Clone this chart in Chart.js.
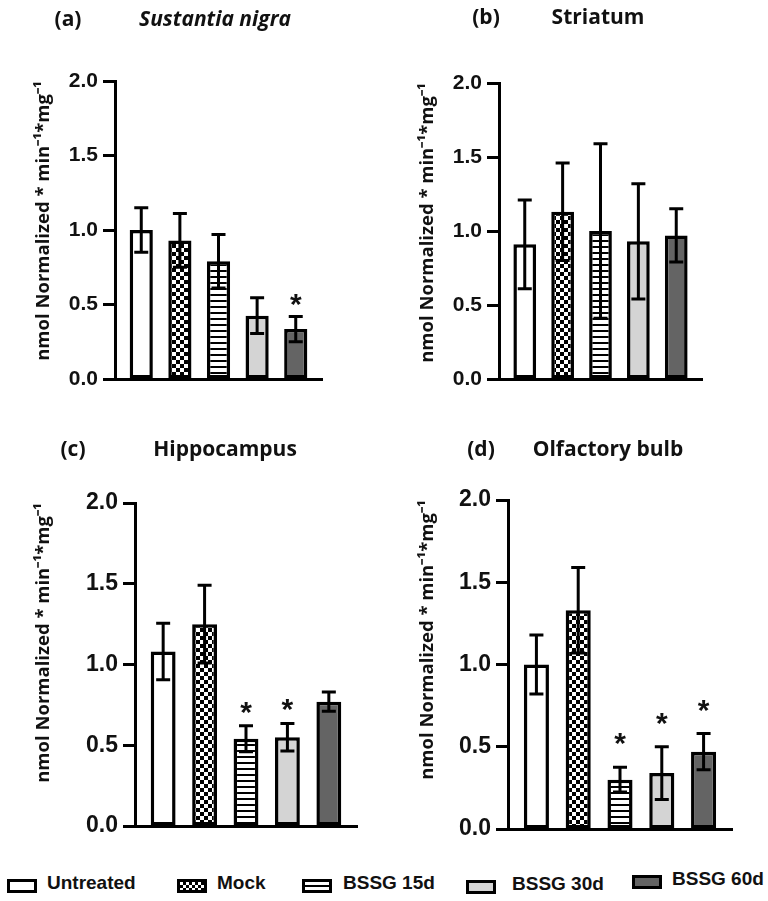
<!DOCTYPE html>
<html>
<head>
<meta charset="utf-8">
<script src="https://cdn.jsdelivr.net/npm/chart.js@4.4.1/dist/chart.umd.min.js"></script>
<style>
  body { margin: 0; background: #fff; }
  #page { position: relative; width: 768px; height: 901px; overflow: hidden; font-family: "Open Sans", sans-serif; color: #111; }
  .panel { position: absolute; }
  .head { position: absolute; font-weight: 700; font-size: 21px; white-space: nowrap; transform: translate(-50%, -50%); }
  .swatch { position: absolute; box-sizing: border-box; border: 3px solid #000; width: 30px; height: 14px; }
  .ltext { position: absolute; font-family: "Liberation Sans Narrow", "Liberation Sans", sans-serif; font-weight: 700; font-size: 19px; transform: translateY(-50%); white-space: nowrap; }
</style>
</head>
<body>
<div id="page"></div>
<script>
// groups shown in every panel
const groups = ['Untreated', 'Mock', 'BSSG 15d', 'BSSG 30d', 'BSSG 60d'];
const yTicks = [0, 0.5, 1.0, 1.5, 2.0];

// (a) Sustantia nigra
const nigraMean = [1.00, 0.93, 0.79, 0.425, 0.335];
const nigraErr  = [0.15, 0.18, 0.18, 0.12, 0.085];
const nigraStar = [false, false, false, false, true];

// (b) Striatum
const striatumMean = [0.91, 1.13, 1.00, 0.93, 0.97];
const striatumErr  = [0.30, 0.33, 0.59, 0.39, 0.18];
const striatumStar = [false, false, false, false, false];

// (c) Hippocampus
const hippoMean = [1.08, 1.25, 0.54, 0.55, 0.77];
const hippoErr  = [0.175, 0.24, 0.08, 0.085, 0.06];
const hippoStar = [false, false, true, true, false];

// (d) Olfactory bulb
const olfMean = [1.00, 1.33, 0.30, 0.34, 0.47];
const olfErr  = [0.18, 0.26, 0.075, 0.16, 0.11];
const olfStar = [false, false, true, true, true];

const yTitle = 'nmol Normalized * min\u207B\u00B9*mg\u207B\u00B9';

const panels = [
  { letter: '(a)', name: 'Sustantia nigra', italic: true, mean: nigraMean, err: nigraErr, star: nigraStar,
    left: 0, top: 0, w: 384, h: 417, cl: 115, ct: 81, cr: 322, cb: 387, tick: 21,
    letterX: 68, nameX: 215, headY: 18, starGap: 2 },
  { letter: '(b)', name: 'Striatum', italic: false, mean: striatumMean, err: striatumErr, star: striatumStar,
    left: 384, top: 0, w: 384, h: 417, cl: 115, ct: 83, cr: 318, cb: 387, tick: 21,
    letterX: 486, nameX: 598, headY: 16, starGap: 6 },
  { letter: '(c)', name: 'Hippocampus', italic: false, mean: hippoMean, err: hippoErr, star: hippoStar,
    left: 0, top: 420, w: 384, h: 440, cl: 135, ct: 83, cr: 357, cb: 414, tick: 23,
    letterX: 73, nameX: 225, headY: 448, starGap: 4 },
  { letter: '(d)', name: 'Olfactory bulb', italic: false, mean: olfMean, err: olfErr, star: olfStar,
    left: 384, top: 420, w: 384, h: 440, cl: 124, ct: 80, cr: 348, cb: 417, tick: 23,
    letterX: 481, nameX: 608, headY: 448, starGap: 14 }
];

const legendPos = [
  { bx: 7, by: 879, tx: 47 },
  { bx: 177, by: 879, tx: 217 },
  { bx: 302, by: 879, tx: 343 },
  { bx: 466, by: 880, tx: 512 },
  { bx: 632, by: 875, tx: 672 }
];

function makeFills(ctx) {
  const c1 = document.createElement('canvas');
  c1.width = c1.height = 8;
  const g1 = c1.getContext('2d');
  g1.fillStyle = '#fff'; g1.fillRect(0, 0, 8, 8);
  g1.fillStyle = '#000'; g1.fillRect(0, 0, 4, 4); g1.fillRect(4, 4, 4, 4);
  const c2 = document.createElement('canvas');
  c2.width = 6; c2.height = 6;
  const g2 = c2.getContext('2d');
  g2.fillStyle = '#fff'; g2.fillRect(0, 0, 6, 6);
  g2.fillStyle = '#000'; g2.fillRect(0, 0, 6, 2);
  return ['#ffffff', ctx.createPattern(c1, 'repeat'), ctx.createPattern(c2, 'repeat'), '#d4d4d4', '#646464'];
}

// error bars + significance stars
const errorBars = {
  id: 'errorBars',
  afterDatasetsDraw(chart) {
    const { ctx, scales: { x, y } } = chart;
    const ds = chart.data.datasets[0];
    const gap = chart.options.plugins.errorBars.starGap;
    ctx.save();
    ctx.strokeStyle = '#000';
    ctx.lineWidth = 3;
    ds.data.forEach((p, i) => {
      const px = x.getPixelForValue(p.x);
      const top = y.getPixelForValue(p.y + ds.errors[i]);
      const bot = y.getPixelForValue(p.y - ds.errors[i]);
      ctx.beginPath();
      ctx.moveTo(px, top); ctx.lineTo(px, bot);
      ctx.moveTo(px - 7, top); ctx.lineTo(px + 7, top);
      ctx.moveTo(px - 7, bot); ctx.lineTo(px + 7, bot);
      ctx.stroke();
      if (ds.stars[i]) {
        ctx.fillStyle = '#111';
        ctx.font = 'bold 30px "Liberation Sans", Arial, sans-serif';
        ctx.textAlign = 'center';
        ctx.textBaseline = 'alphabetic';
        ctx.fillText('*', px, top - gap);
      }
    });
    ctx.restore();
  }
};

const page = document.getElementById('page');

panels.forEach(p => {
  const cv = document.createElement('canvas');
  cv.className = 'panel';
  cv.width = p.w; cv.height = p.h;
  cv.style.left = p.left + 'px'; cv.style.top = p.top + 'px';
  cv.style.width = p.w + 'px'; cv.style.height = p.h + 'px';
  page.appendChild(cv);
  const ctx = cv.getContext('2d');

  new Chart(ctx, {
    type: 'bar',
    data: {
      datasets: [{
        label: p.name,
        data: p.mean.map((v, i) => ({ x: i, y: v })),
        errors: p.err,
        stars: p.star,
        backgroundColor: makeFills(ctx),
        borderColor: '#000',
        borderWidth: 3.5,
        borderSkipped: false,
        barPercentage: 0.6,
        categoryPercentage: 1
      }]
    },
    options: {
      responsive: false,
      animation: false,
      layout: { padding: { left: 29, top: p.ct, right: p.w - p.cr, bottom: p.h - p.cb } },
      plugins: {
        legend: { display: false },
        tooltip: { enabled: false },
        errorBars: { starGap: p.starGap }
      },
      scales: {
        x: {
          type: 'linear',
          offset: false,
          min: -0.68,
          max: 4.68,
          ticks: { display: false },
          grid: { display: false, offset: false },
          border: { display: true, color: '#000', width: 3 }
        },
        y: {
          min: 0,
          max: 2,
          afterBuildTicks: s => { s.ticks = yTicks.map(v => ({ value: v })); },
          afterFit: s => { s.width = p.cl - 29; },
          ticks: {
            callback: v => v.toFixed(1),
            color: '#111',
            padding: 5,
            font: { family: '"Liberation Sans", Arial, sans-serif', weight: 'bold', size: p.tick }
          },
          grid: { display: true, drawOnChartArea: false, drawTicks: true, tickLength: 12, tickWidth: 3, tickColor: '#000' },
          border: { display: true, color: '#000', width: 3 },
          title: {
            display: true,
            text: yTitle,
            align: 'end',
            color: '#111',
            padding: { top: 4, bottom: 4 },
            font: { family: '"Open Sans", sans-serif', weight: 'bold', size: 18.5 }
          }
        }
      }
    },
    plugins: [errorBars]
  });

  const l = document.createElement('div');
  l.className = 'head';
  l.textContent = p.letter;
  l.style.left = p.letterX + 'px'; l.style.top = p.headY + 'px';
  page.appendChild(l);
  const n = document.createElement('div');
  n.className = 'head';
  n.textContent = p.name;
  if (p.italic) n.style.fontStyle = 'italic';
  n.style.left = p.nameX + 'px'; n.style.top = p.headY + 'px';
  page.appendChild(n);
});

// legend built from the group names
const swatchBg = [
  '#fff',
  'repeating-conic-gradient(#000 0 25%, #fff 0 50%) 0 0 / 6px 6px',
  'repeating-linear-gradient(#fff 0 3px, #000 3px 5px)',
  '#d4d4d4',
  '#646464'
];
groups.forEach((g, i) => {
  const pos = legendPos[i];
  const s = document.createElement('div');
  s.className = 'swatch';
  s.style.left = pos.bx + 'px'; s.style.top = pos.by + 'px';
  s.style.background = swatchBg[i];
  page.appendChild(s);
  const t = document.createElement('div');
  t.className = 'ltext';
  t.textContent = g;
  t.style.left = pos.tx + 'px'; t.style.top = (pos.by + 4) + 'px';
  page.appendChild(t);
});
</script>
</body>
</html>
